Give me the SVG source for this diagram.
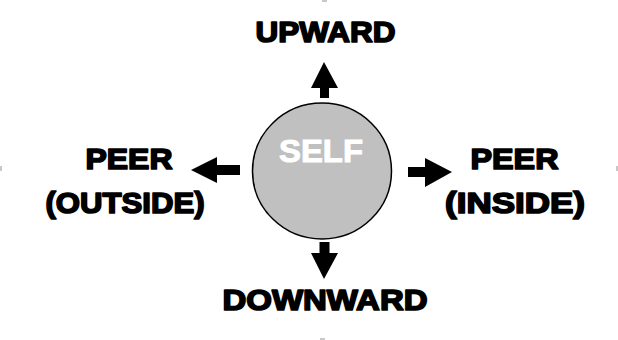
<svg xmlns="http://www.w3.org/2000/svg" width="618" height="340" viewBox="0 0 618 340">
<style>
.lbl{font-family:"Liberation Sans",Arial,sans-serif;font-weight:bold;font-size:30px;fill:#000;stroke:#000;stroke-width:1.7px;stroke-linejoin:round;text-anchor:middle}
.self{font-family:"Liberation Sans",Arial,sans-serif;font-weight:bold;font-size:32px;fill:#fff;stroke:#fff;stroke-width:1px;text-anchor:middle}
.arr{fill:#000}
.tick{fill:#c8c8c8}
</style>
<rect width="618" height="340" fill="#fff"/>
<g id="handles">
<rect class="tick" x="0" y="166" width="2" height="5"/>
<rect class="tick" x="616" y="166" width="2" height="5"/>
<rect class="tick" x="320" y="338" width="5" height="2"/>
<rect class="tick" x="322" y="0" width="5" height="2"/>
</g>
<g id="self">
<ellipse cx="322" cy="171" rx="69.5" ry="68" fill="#c0c0c0" stroke="#000" stroke-width="1.5"/>
<text class="self" x="321" y="162" textLength="84" lengthAdjust="spacingAndGlyphs">SELF</text>
</g>
<g id="connectors">
<polygon class="arr" points="324,62 338,88 329,88 329,98 320,98 320,88 311,88"/>
<polygon class="arr" points="324,279 338,253 329.5,253 329.5,242 319.5,242 319.5,253 311,253"/>
<polygon class="arr" points="191,170 217,157 217,165 240,165 240,175 217,175 217,183"/>
<polygon class="arr" points="452,172 425,158 425,167 408,167 408,177 425,177 425,187"/>
</g>
<g id="upward"><text class="lbl" x="325.5" y="42" textLength="140" lengthAdjust="spacingAndGlyphs">UPWARD</text></g>
<g id="peer-outside">
<text class="lbl" x="129" y="169" textLength="87" lengthAdjust="spacingAndGlyphs">PEER</text>
<text class="lbl" x="125" y="213" textLength="159" lengthAdjust="spacingAndGlyphs">(OUTSIDE)</text>
</g>
<g id="peer-inside">
<text class="lbl" x="514.5" y="169" textLength="88" lengthAdjust="spacingAndGlyphs">PEER</text>
<text class="lbl" x="515" y="213" textLength="140" lengthAdjust="spacingAndGlyphs">(INSIDE)</text>
</g>
<g id="downward"><text class="lbl" x="325" y="310" textLength="205" lengthAdjust="spacingAndGlyphs">DOWNWARD</text></g>
</svg>
